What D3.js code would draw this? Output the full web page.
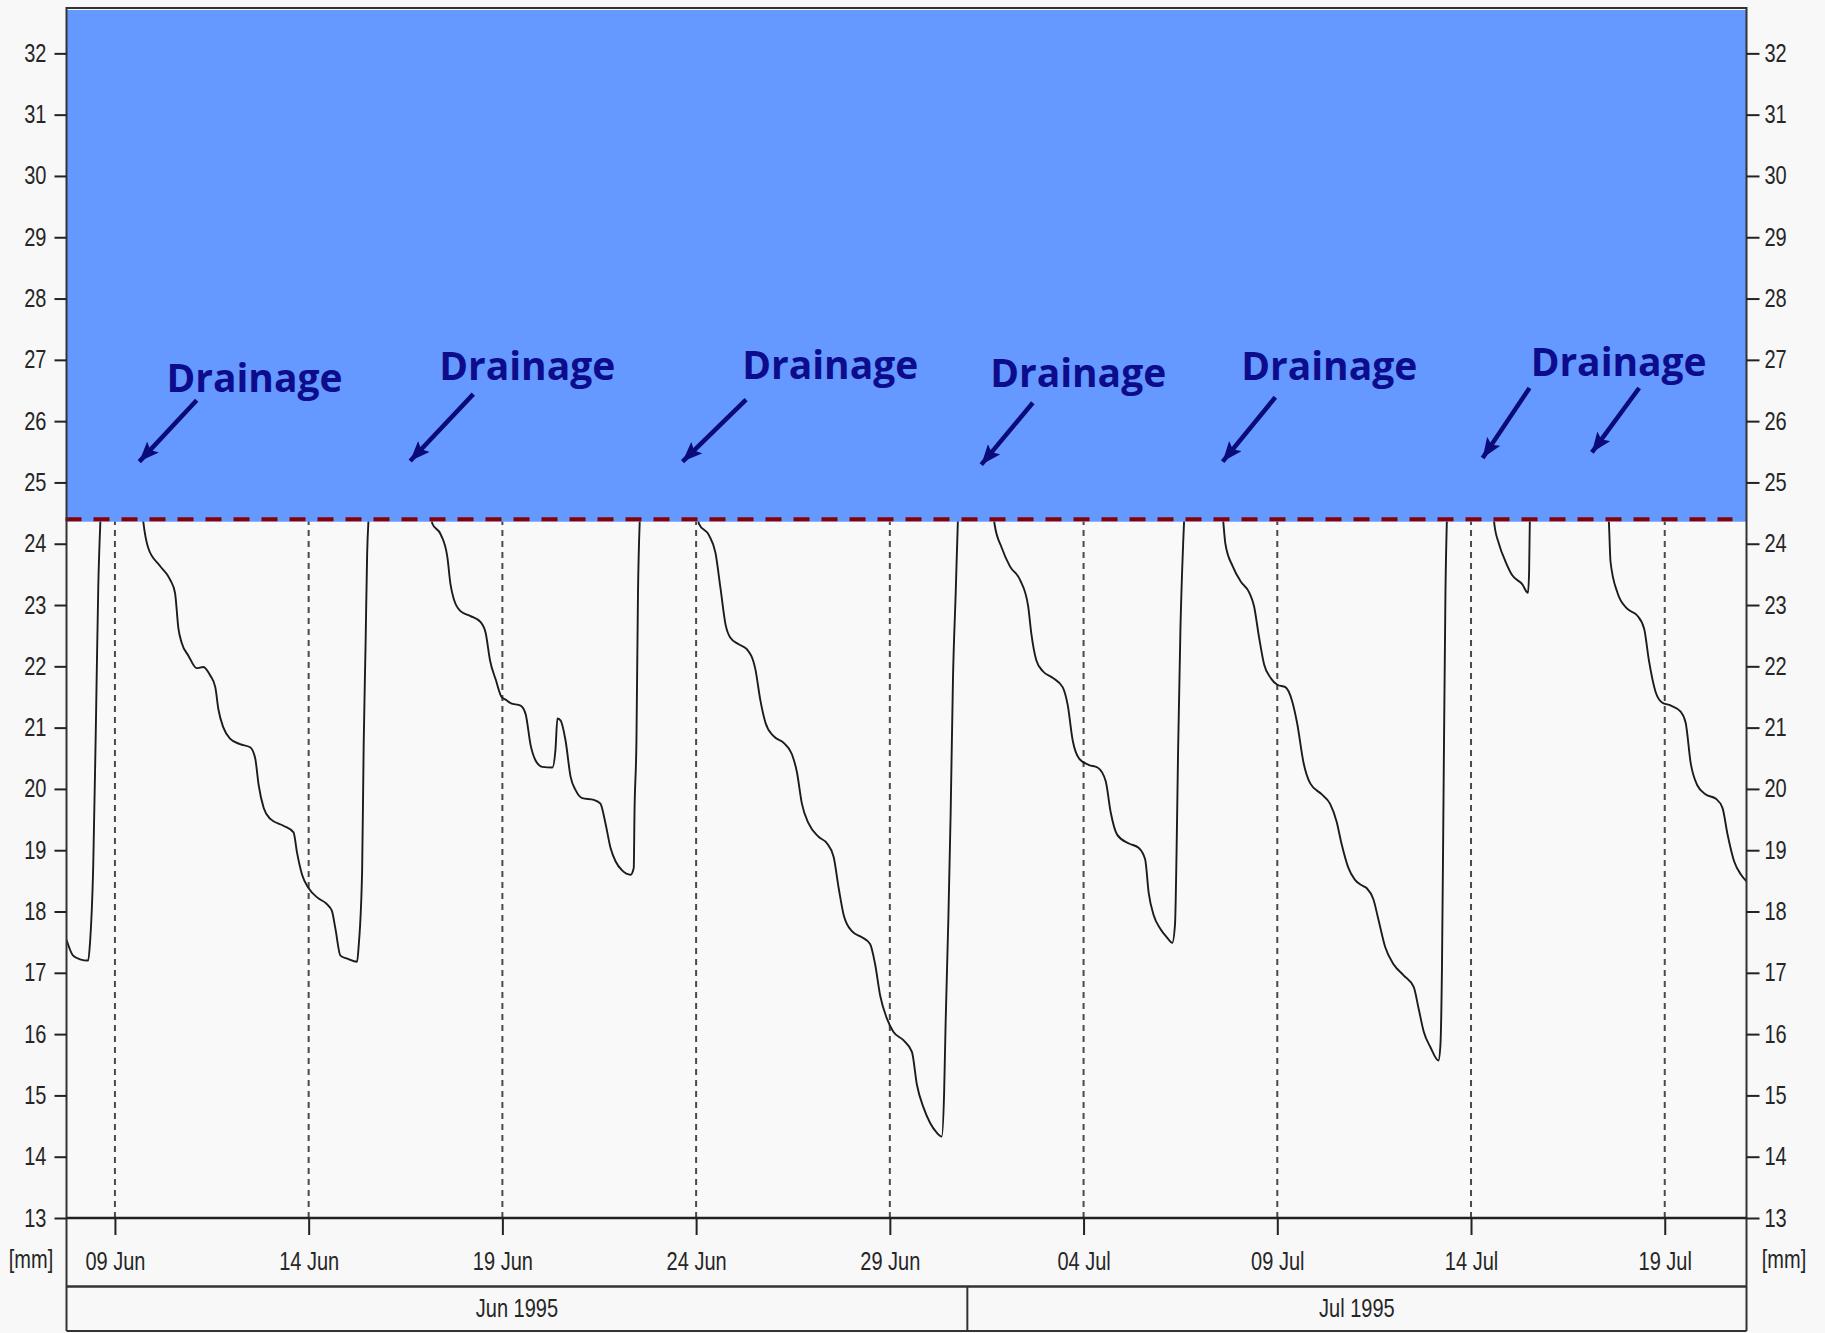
<!DOCTYPE html>
<html>
<head>
<meta charset="utf-8">
<script src="https://cdn.jsdelivr.net/npm/d3@7"></script>
<style>
  html, body { margin: 0; padding: 0; background: #f8f8f8; }
  svg { display: block; }
</style>
</head>
<body>
<div id="chart"></div>
<script>
// ---------- DATA ----------
// time is expressed as day-of-June (09 Jun 00:00 = 9, 01 Jul 00:00 = 31)
const domainDays = [7.75, 51.11];

const obsDay = [
  7.75, 7.92, 8.10, 8.31, 8.35, 8.44, 8.51, 8.57, 8.63, 8.80, 9.20, 9.65,
  9.73, 9.86, 10.16, 10.42, 10.55, 10.64, 10.72, 10.90, 11.11, 11.28, 11.46, 11.59, 11.67, 11.80, 11.97,
  12.23, 12.49, 12.62, 12.71, 12.84, 13.01, 13.35, 13.61, 13.70, 13.83, 14.00, 14.22, 14.47, 14.60,
  14.69, 14.82, 15.00, 15.25, 15.29, 15.38, 15.42, 15.47, 15.51, 15.55, 15.70, 16.60, 17.12,
  17.19, 17.41, 17.58, 17.66, 17.75, 17.92, 18.18, 18.44, 18.57, 18.68, 18.83, 18.98, 19.10, 19.21,
  19.47, 19.60, 19.73, 19.86, 20.03, 20.29, 20.37, 20.42, 20.50, 20.63, 20.76, 20.89, 21.06, 21.36,
  21.53, 21.66, 21.79, 21.92, 22.09, 22.31, 22.39, 22.41, 22.46, 22.50, 22.55, 22.70, 23.60, 24.02,
  24.07, 24.33, 24.50, 24.63, 24.76, 24.88, 25.10, 25.31, 25.53, 25.66, 25.79, 26.00, 26.26, 26.47,
  26.60, 26.73, 26.90, 27.16, 27.38, 27.55, 27.68, 27.81, 28.02, 28.28, 28.49, 28.62, 28.75, 28.92,
  29.09, 29.35, 29.57, 29.70, 29.87, 30.04, 30.20, 30.34, 30.40, 30.44, 30.51, 30.57, 30.63, 30.70,
  30.76, 30.90, 31.40, 31.65,
  31.70, 31.89, 32.10, 32.36, 32.57, 32.65, 32.78, 32.95, 33.21, 33.46, 33.59, 33.72, 33.89, 34.14,
  34.36, 34.57, 34.70, 34.87, 35.17, 35.42, 35.59, 35.68, 35.81, 35.98, 36.15, 36.29, 36.36, 36.40,
  36.44, 36.50, 36.57, 36.60, 36.75, 37.30, 37.55,
  37.61, 37.66, 37.85, 38.06, 38.28, 38.40, 38.53, 38.66, 38.83, 39.00, 39.21, 39.38, 39.51, 39.68,
  39.85, 40.15, 40.36, 40.53, 40.66, 40.83, 41.00, 41.20, 41.31, 41.48, 41.61, 41.78, 42.00, 42.26,
  42.52, 42.65, 42.78, 42.95, 43.16, 43.21, 43.25, 43.29, 43.34, 43.38, 43.50, 44.20, 44.55,
  44.60, 44.72, 44.89, 45.06, 45.32, 45.47, 45.50, 45.52, 45.70, 47.00, 47.50,
  47.56, 47.60, 47.78, 48.03, 48.29, 48.47, 48.59, 48.76, 48.93, 49.16, 49.41, 49.54, 49.67, 49.84,
  50.06, 50.32, 50.49, 50.62, 50.79, 50.97, 51.11
];

const obsLevel = [
  17.54, 17.28, 17.22, 17.20, 17.43, 18.75, 21.10, 23.30, 24.45, 25.80, 25.90, 24.90,
  24.37, 23.93, 23.64, 23.42, 23.20, 22.61, 22.39, 22.17, 21.97, 21.99, 21.85, 21.66, 21.30, 21.00, 20.82,
  20.73, 20.68, 20.50, 20.06, 19.69, 19.51, 19.40, 19.29, 18.96, 18.60, 18.38, 18.23, 18.12, 18.01,
  17.72, 17.28, 17.23, 17.18, 17.43, 18.67, 20.72, 22.39, 23.85, 24.45, 25.80, 25.90, 24.90,
  24.33, 24.15, 23.78, 23.34, 23.09, 22.90, 22.82, 22.72, 22.54, 22.10, 21.78, 21.50, 21.45, 21.40,
  21.36, 21.22, 20.71, 20.46, 20.36, 20.35, 20.64, 21.15, 21.12, 20.79, 20.20, 19.98, 19.85, 19.82,
  19.76, 19.44, 19.04, 18.82, 18.67, 18.60, 18.71, 19.62, 20.79, 23.20, 24.45, 25.80, 25.90, 24.90,
  24.33, 24.14, 23.85, 23.27, 22.68, 22.47, 22.36, 22.28, 21.95, 21.44, 21.08, 20.86, 20.75, 20.57,
  20.28, 19.76, 19.44, 19.22, 19.11, 18.89, 18.38, 17.94, 17.68, 17.58, 17.47, 17.14, 16.63, 16.26,
  16.04, 15.90, 15.71, 15.17, 14.80, 14.55, 14.40, 14.33, 15.02, 16.19, 17.87, 19.62, 21.81, 23.20,
  24.45, 25.80, 25.90, 24.90,
  24.33, 23.93, 23.63, 23.41, 22.98, 22.54, 22.10, 21.92, 21.81, 21.66, 21.37, 20.79, 20.49, 20.39,
  20.35, 20.13, 19.62, 19.25, 19.11, 19.04, 18.85, 18.31, 17.94, 17.72, 17.58, 17.49, 17.79, 18.96,
  20.64, 22.61, 24.00, 24.45, 25.80, 25.90, 24.90,
  24.33, 24.00, 23.63, 23.38, 23.20, 22.98, 22.47, 22.03, 21.81, 21.70, 21.66, 21.44, 21.08, 20.42,
  20.09, 19.91, 19.76, 19.47, 19.10, 18.72, 18.52, 18.42, 18.38, 18.20, 17.87, 17.43, 17.14, 16.96,
  16.77, 16.41, 16.04, 15.79, 15.57, 15.82, 17.07, 19.84, 23.20, 24.45, 25.80, 25.90, 24.90,
  24.33, 24.00, 23.71, 23.49, 23.34, 23.20, 23.56, 24.45, 25.80, 25.90, 24.90,
  24.33, 23.71, 23.20, 22.94, 22.83, 22.61, 22.10, 21.59, 21.41, 21.36, 21.26, 21.08, 20.42, 20.06,
  19.91, 19.84, 19.69, 19.26, 18.82, 18.60, 18.49
];

const yTickValues = [13,14,15,16,17,18,19,20,21,22,23,24,25,26,27,28,29,30,31,32];
const xTickDays   = [9, 14, 19, 24, 29, 34, 39, 44, 49];
const xTickLabels = ["09 Jun","14 Jun","19 Jun","24 Jun","29 Jun","04 Jul","09 Jul","14 Jul","19 Jul"];
const monthLabels = ["Jun 1995", "Jul 1995"];
const monthStartDays = [1, 31];
const monthEndDays = [31, 62];
const unitLabel = "[mm]";
const drainThreshold = 24.4;

const drainText = "Drainage";
const labelDay   = [12.60, 19.64, 27.46, 33.86, 40.34, 47.81];
const labelLevel = [26.48, 26.67, 26.68, 26.56, 26.67, 26.73];
const arrowFromDay   = [11.11, 18.25, 25.29, 32.69, 38.95, 45.51, 48.34];
const arrowFromLevel = [26.34, 26.44, 26.35, 26.30, 26.39, 26.54, 26.54];
const arrowToDay     = [9.63, 16.62, 23.65, 31.36, 37.59, 44.30, 47.12];
const arrowToLevel   = [25.34, 25.35, 25.34, 25.29, 25.34, 25.40, 25.49];

// ---------- LAYOUT ----------
const W = 1825, H = 1333;
const L = 66.5, R = 1746.5, T = 8, B = 1218;
const bandMid = 1286.5, bandBottom = 1331;

const t0 = Date.UTC(1995, 5, 1);
const dayToDate = d => new Date(t0 + (d - 1) * 864e5);

const x = d3.scaleUtc().domain(domainDays.map(dayToDate)).range([L, R]);
const y = d3.scaleLinear().domain([13, 32.74]).range([B, T]);

const svg = d3.select("#chart").append("svg")
  .attr("width", W).attr("height", H)
  .style("background", "#f8f8f8");

const axisFont = "'Liberation Sans', Arial, sans-serif";
const axisColor = "#262626";
const narrow = 0.8;
// condense a text node horizontally (narrow sans look)
function condense(sel) {
  sel.each(function () {
    const w = this.getComputedTextLength();
    if (w > 0) {
      d3.select(this).attr("textLength", w * narrow).attr("lengthAdjust", "spacingAndGlyphs");
    }
  });
}

svg.append("defs").append("clipPath").attr("id", "plotclip")
  .append("rect").attr("x", L).attr("y", T).attr("width", R - L).attr("height", B - T);

svg.select("defs").append("marker")
  .attr("id", "arrowhead")
  .attr("viewBox", "0 0 20 16")
  .attr("refX", 20).attr("refY", 8)
  .attr("markerWidth", 20).attr("markerHeight", 16)
  .attr("markerUnits", "userSpaceOnUse")
  .attr("orient", "auto")
  .append("path").attr("d", "M0,0 L20,8 L0,16 L4,8 Z").attr("fill", "#0a0a78");

// plot background
svg.append("rect").attr("x", L).attr("y", T).attr("width", R - L).attr("height", B - T)
  .attr("fill", "#f9f9f9");

// vertical dashed grid lines
const plot = svg.append("g").attr("clip-path", "url(#plotclip)");
plot.selectAll("line.grid").data(xTickDays).join("line")
  .attr("class", "grid")
  .attr("x1", d => x(dayToDate(d))).attr("x2", d => x(dayToDate(d)))
  .attr("y1", B).attr("y2", T)
  .attr("stroke", "#4a4a4a").attr("stroke-width", 2)
  .attr("stroke-dasharray", "6,5");

// data line
const line = d3.line()
  .x((d, i) => x(dayToDate(obsDay[i])))
  .y((d, i) => y(obsLevel[i]))
  .curve(d3.curveMonotoneX);
plot.append("path")
  .attr("d", line(obsLevel))
  .attr("fill", "none")
  .attr("stroke", "#1c1c1c")
  .attr("stroke-width", 1.9)
  .attr("stroke-linejoin", "round");

// blue drainage zone
svg.append("rect")
  .attr("x", L).attr("y", T + 2)
  .attr("width", R - L).attr("height", y(drainThreshold) + 2.5 - (T + 2))
  .attr("fill", "#6699ff");

// threshold dashed line
svg.append("line")
  .attr("x1", L - 1).attr("x2", R - 14)
  .attr("y1", y(drainThreshold)).attr("y2", y(drainThreshold))
  .attr("stroke", "#8b0000").attr("stroke-width", 4)
  .attr("stroke-dasharray", "16,12");

// annotations
svg.selectAll("text.drain").data(labelDay).join("text")
  .attr("class", "drain")
  .attr("x", (d) => x(dayToDate(d)))
  .attr("y", (d, i) => y(labelLevel[i]))
  .attr("text-anchor", "middle")
  .attr("font-family", "'Open Sans', 'Noto Sans', sans-serif")
  .attr("font-weight", "bold")
  .attr("font-size", 40)
  .attr("textLength", 176)
  .attr("lengthAdjust", "spacingAndGlyphs")
  .attr("fill", "#0c0c8c")
  .text(drainText);

svg.selectAll("line.arrow").data(arrowFromDay).join("line")
  .attr("class", "arrow")
  .attr("x1", d => x(dayToDate(d)))
  .attr("y1", (d, i) => y(arrowFromLevel[i]))
  .attr("x2", (d, i) => x(dayToDate(arrowToDay[i])))
  .attr("y2", (d, i) => y(arrowToLevel[i]))
  .attr("stroke", "#0a0a78").attr("stroke-width", 4.5)
  .attr("marker-end", "url(#arrowhead)");

// frame
const frameColor = "#333";
svg.append("line").attr("x1", L).attr("x2", R).attr("y1", T).attr("y2", T)
  .attr("stroke", frameColor).attr("stroke-width", 2);
svg.append("line").attr("x1", L).attr("x2", L).attr("y1", T - 1).attr("y2", bandBottom)
  .attr("stroke", frameColor).attr("stroke-width", 2);
svg.append("line").attr("x1", R).attr("x2", R).attr("y1", T - 1).attr("y2", bandBottom)
  .attr("stroke", frameColor).attr("stroke-width", 2);
svg.append("line").attr("x1", L).attr("x2", R).attr("y1", bandMid).attr("y2", bandMid)
  .attr("stroke", frameColor).attr("stroke-width", 2.5);
svg.append("line").attr("x1", L).attr("x2", R).attr("y1", bandBottom).attr("y2", bandBottom)
  .attr("stroke", frameColor).attr("stroke-width", 2);

// axes
const styleAxis = g => {
  g.select(".domain").attr("stroke", "#222").attr("stroke-width", 2.5);
  g.selectAll(".tick line").attr("stroke", "#222").attr("stroke-width", 2);
  g.selectAll(".tick text").attr("fill", axisColor)
    .attr("font-family", axisFont).attr("font-size", 25)
    .call(condense);
};

const yLeft = d3.axisLeft(y).tickValues(yTickValues).tickSize(12).tickPadding(8)
  .tickFormat(d3.format("d"));
svg.append("g").attr("transform", `translate(${L},0)`).call(yLeft)
  .call(g => g.select(".domain").remove())
  .call(styleAxis);

const yRight = d3.axisRight(y).tickValues(yTickValues).tickSize(13).tickPadding(5)
  .tickFormat(d3.format("d"));
svg.append("g").attr("transform", `translate(${R},0)`).call(yRight)
  .call(g => g.select(".domain").remove())
  .call(styleAxis);

const xBottom = d3.axisBottom(x)
  .tickValues(xTickDays.map(dayToDate))
  .tickSize(17).tickPadding(17)
  .tickFormat((d, i) => xTickLabels[i]);
svg.append("g").attr("transform", `translate(0,${B})`).call(xBottom)
  .call(styleAxis)
  .call(g => g.select(".domain").attr("d", `M${L},0H${R}`));

// unit labels
[31, 1784].forEach(ux => {
  svg.append("text").attr("x", ux).attr("y", 1268)
    .attr("text-anchor", "middle")
    .attr("font-family", axisFont).attr("font-size", 25)
    .attr("fill", axisColor).text(unitLabel)
    .call(condense);
});

// month band
monthLabels.forEach((lab, i) => {
  const a = Math.max(x(dayToDate(monthStartDays[i])), L);
  const b = Math.min(x(dayToDate(monthEndDays[i])), R);
  if (i > 0) {
    svg.append("line").attr("x1", a).attr("x2", a).attr("y1", bandMid).attr("y2", bandBottom)
      .attr("stroke", frameColor).attr("stroke-width", 2);
  }
  svg.append("text").attr("x", (a + b) / 2).attr("y", 1317)
    .attr("text-anchor", "middle")
    .attr("font-family", axisFont).attr("font-size", 25)
    .attr("fill", axisColor).text(lab)
    .call(condense);
});
</script>
</body>
</html>
